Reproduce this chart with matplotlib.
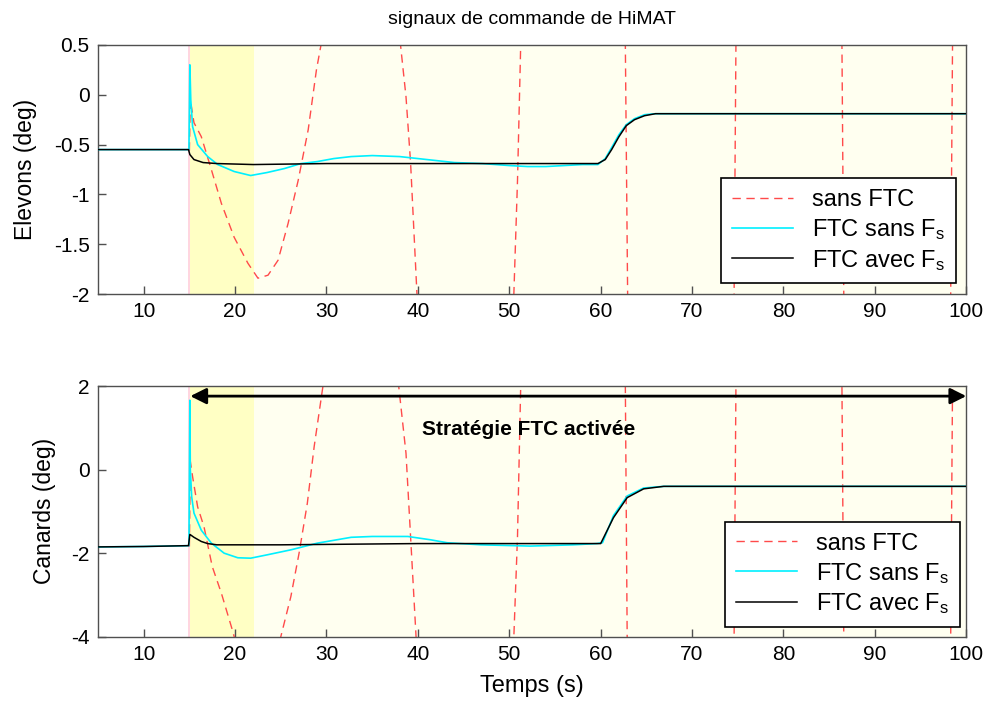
import matplotlib
matplotlib.use("Agg")
import matplotlib.pyplot as plt

plt.rcParams['font.family'] = ['Liberation Sans', 'DejaVu Sans']
plt.rcParams['mathtext.default'] = 'regular'

# ---- data ----
xticks = [10, 20, 30, 40, 50, 60, 70, 80, 90, 100]
elev_yticks = [0.5, 0, -0.5, -1, -1.5, -2]
elev_yticklabels = ["0.5", "0", "-0.5", "-1", "-1.5", "-2"]
can_yticks = [2, 0, -2, -4]
can_yticklabels = ["2", "0", "-2", "-4"]

# Elevons, FTC avec Fs (black)
elev_avec_t = [5, 10, 14.9, 15.05, 15.5, 16.5, 18, 22, 30, 40, 50, 59.7,
               60.5, 61.2, 62, 62.8, 63.7, 64.8, 66, 70, 80, 90, 100]
elev_avec_y = [-0.55, -0.55, -0.55, -0.60, -0.65, -0.68, -0.69, -0.70, -0.69, -0.69, -0.69, -0.69,
               -0.65, -0.55, -0.42, -0.31, -0.25, -0.21, -0.19, -0.19, -0.19, -0.19, -0.19]
# Elevons, FTC sans Fs (cyan)
elev_sans_t = [5, 10, 14.95, 15.05, 15.15, 15.35, 15.9, 17.0, 18.1, 19.9, 21.7, 23.5, 25.4,
               27.2, 29.0, 30.8, 32.7, 35, 38, 40, 42, 44, 47, 50, 52, 54, 56, 58, 59.7,
               60.5, 61.2, 62, 62.8, 63.7, 64.8, 66, 70, 80, 90, 100]
elev_sans_y = [-0.55, -0.55, -0.55, 0.30, -0.05, -0.32, -0.50, -0.62, -0.70, -0.77, -0.81, -0.78, -0.74,
               -0.69, -0.67, -0.64, -0.62, -0.61, -0.62, -0.64, -0.66, -0.68, -0.69, -0.71, -0.72, -0.72, -0.71, -0.70, -0.70,
               -0.64, -0.53, -0.40, -0.30, -0.24, -0.20, -0.19, -0.19, -0.19, -0.19, -0.19]
# Elevons, sans FTC (red dashed), values beyond the axes are clipped
elev_none_t = [15.0, 15.1, 15.5, 16.3, 17.4, 18.5, 19.9, 21.4, 22.5, 23.6, 24.7, 25.8, 26.9, 28.0,
               28.9, 29.4, 30.0, 33.5, 37.6, 38.1, 38.7, 39.2, 39.9, 40.5, 45.0, 50.2, 50.5, 50.9,
               51.25, 51.6, 57.0, 62.5, 62.7, 62.95, 63.2, 69.0, 74.5, 74.6, 74.8, 75.0, 81.0,
               86.3, 86.4, 86.6, 86.8, 93.0, 98.2, 98.3, 98.5, 98.7, 100]
elev_none_y = [-0.56, -0.05, -0.28, -0.42, -0.75, -1.09, -1.43, -1.69, -1.84, -1.81, -1.66, -1.29, -0.86, -0.35,
               0.25, 0.5, 1.2, 3.0, 1.2, 0.5, -0.02, -0.68, -2.0, -3.0, -5.0, -3.0, -2.0, -0.86,
               0.5, 1.5, 6.0, 1.5, 0.5, -2.0, -3.0, -8.0, -3.0, -2.0, 0.5, 3.0, 10.0,
               3.0, 0.5, -2.0, -3.0, -12.0, -3.0, -2.0, 0.5, 3.0, 8.0]

# Canards, FTC avec Fs (black)
can_avec_t = [5, 10, 14.9, 15.05, 15.5, 16.3, 17, 18, 25, 30, 35, 40, 50, 60,
              61.4, 62.9, 64.7, 66.9, 70, 80, 90, 100]
can_avec_y = [-1.85, -1.84, -1.82, -1.55, -1.62, -1.72, -1.77, -1.80, -1.80, -1.79, -1.78, -1.77, -1.77, -1.77,
              -1.15, -0.67, -0.46, -0.40, -0.40, -0.40, -0.40, -0.40]
# Canards, FTC sans Fs (cyan)
can_sans_t = [5, 10, 14.95, 15.05, 15.1, 15.25, 15.5, 16.3, 17.4, 18.8, 20.3, 21.7, 23.5, 26.1,
              29.0, 32.7, 35.0, 38.9, 41.4, 43.2, 46.9, 52.3, 57.0, 59.6, 60.2,
              61.4, 62.9, 64.7, 66.9, 70, 80, 90, 100]
can_sans_y = [-1.85, -1.84, -1.82, 1.66, 0.0, -0.65, -1.04, -1.45, -1.76, -2.0, -2.11, -2.12, -2.04, -1.92,
              -1.76, -1.62, -1.60, -1.60, -1.68, -1.75, -1.80, -1.83, -1.80, -1.77, -1.75,
              -1.10, -0.63, -0.44, -0.40, -0.40, -0.40, -0.40, -0.40]
# Canards, sans FTC (red dashed)
can_none_t = [15.0, 15.1, 15.35, 15.9, 16.6, 17.5, 18.5, 19.7, 19.9, 20.5, 22.5, 24.5, 25.0, 26.1,
              27.0, 27.9, 28.65, 29.6, 30.0, 33.5, 37.6, 37.9, 38.7, 39.2, 39.8, 40.3, 45.0,
              50.1, 50.5, 50.9, 51.25, 51.5, 57.0, 62.5, 62.7, 62.9, 63.1, 69.0, 74.5, 74.6,
              74.8, 75.0, 81.0, 86.3, 86.4, 86.6, 86.8, 93.0, 98.2, 98.3, 98.5, 98.7, 100]
can_none_y = [-1.84, 0.2, -0.17, -0.89, -1.37, -2.32, -2.96, -3.84, -4.0, -4.6, -5.2, -4.6, -4.0, -3.04,
              -2.0, -0.81, 0.55, 1.98, 2.8, 6.0, 2.8, 2.0, 0.39, -1.6, -4.0, -5.0, -10.0,
              -5.0, -4.0, -1.6, 2.0, 3.0, 12.0, 3.0, 2.0, -4.0, -5.0, -16.0, -5.0, -4.0,
              2.0, 3.0, 20.0, 3.0, 2.0, -4.0, -5.0, -24.0, -5.0, -4.0, 2.0, 3.0, 12.0]

fault_t = 15.0
strong_end = 22.1
labels = ["sans FTC", "FTC sans F$_s$", "FTC avec F$_s$"]

red = "#FF4A4A"
cyan = "#00F0FF"
edge = "#505050"

fig = plt.figure(figsize=(9.9, 7.02), dpi=100)
ax1 = fig.add_axes([0.099, 0.581, 0.877, 0.355])
ax2 = fig.add_axes([0.099, 0.093, 0.877, 0.357])


def setup(ax, t_none, y_none, t_sans, y_sans, t_avec, y_avec, ylim, yt, ytl, legend_anchor):
    ax.axvspan(fault_t, 100, color="#FFFFF0", lw=0, zorder=0)
    ax.axvspan(fault_t, strong_end, color="#FFFFC4", lw=0, zorder=0)
    ax.axvspan(fault_t - 0.2, fault_t + 0.05, color="#FFD6E0", lw=0, zorder=0)
    ax.plot(t_none, y_none, color=red, lw=1, dashes=(6, 4), label=labels[0], zorder=2)
    ax.plot(t_sans, y_sans, color=cyan, lw=1.2, label=labels[1], zorder=3)
    ax.plot(t_avec, y_avec, color="black", lw=1.1, label=labels[2], zorder=4)
    ax.set_xlim(5, 100)
    ax.set_ylim(*ylim)
    ax.set_xticks(xticks)
    ax.set_xticklabels([str(v) for v in xticks])
    ax.set_yticks(yt)
    ax.set_yticklabels(ytl)
    ax.tick_params(direction="in", length=6, width=1, color=edge, labelsize=15, pad=6)
    for s in ax.spines.values():
        s.set_color(edge)
        s.set_linewidth(1)
    leg = ax.legend(loc="lower right", bbox_to_anchor=legend_anchor, fontsize=17,
                    handlelength=2.6, handletextpad=0.8, labelspacing=0.25, borderpad=0.45,
                    borderaxespad=0, fancybox=False, framealpha=1, edgecolor="black")
    leg.get_frame().set_linewidth(1.2)
    leg.set_zorder(10)


setup(ax1, elev_none_t, elev_none_y, elev_sans_t, elev_sans_y, elev_avec_t, elev_avec_y,
      (-2, 0.5), elev_yticks, elev_yticklabels, (0.988, 0.044))
setup(ax2, can_none_t, can_none_y, can_sans_t, can_sans_y, can_avec_t, can_avec_y,
      (-4, 2), can_yticks, can_yticklabels, (0.993, 0.039))

ax1.set_title("signaux de commande de HiMAT", fontsize=14, pad=15)
ax1.set_ylabel("Elevons (deg)", fontsize=16.5, labelpad=12)
ax2.set_ylabel("Canards (deg)", fontsize=16.5, labelpad=11)
ax2.set_xlabel("Temps (s)", fontsize=17, labelpad=8)

ax2.annotate("", xy=(fault_t + 0.1, 1.76), xytext=(100, 1.76),
             arrowprops=dict(arrowstyle="<|-|>", mutation_scale=24, lw=2, color="black",
                             shrinkA=0, shrinkB=0), zorder=6)
ax2.text(52.1, 0.95, "Stratégie FTC activée", fontsize=15, fontweight="bold",
         ha="center", va="center", zorder=6)

fig.savefig("out.png", dpi=100)
